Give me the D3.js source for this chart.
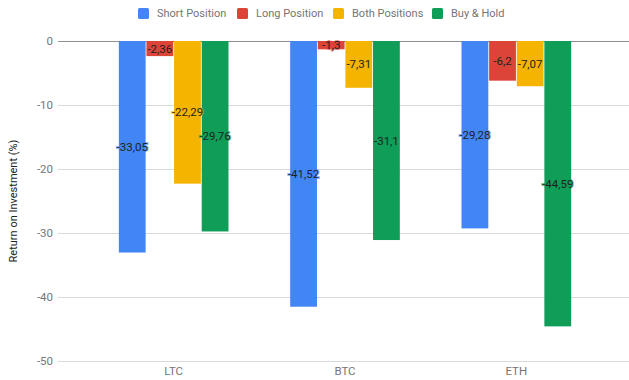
<!DOCTYPE html>
<html><head><meta charset="utf-8">
<script src="https://cdn.jsdelivr.net/npm/d3@7/dist/d3.min.js"></script>
<style>body{margin:0;background:#fff}svg{display:block;font-family:Roboto,Arial,sans-serif}</style>
</head><body><svg id="c" width="629" height="380"></svg>
<script>
const categories = ["LTC", "BTC", "ETH"];
const seriesNames = ["Short Position", "Long Position", "Both Positions", "Buy & Hold"];
const shortPosition = [-33.05, -41.52, -29.28];
const longPosition = [-2.36, -1.3, -6.2];
const bothPositions = [-22.29, -7.31, -7.07];
const buyHold = [-29.76, -31.1, -44.59];
const yTicks = [0, -10, -20, -30, -40, -50];
const colors = ["#4285F4", "#DB4437", "#F4B400", "#0F9D58"];

const seriesValues = [shortPosition, longPosition, bothPositions, buyHold];
const svg = d3.select("#c");
const plotLeft = 58, plotRight = 629, plotTop = 41, plotBottom = 361;

const y = d3.scaleLinear().domain([0, -50]).range([plotTop, plotBottom]);
const x0 = d3.scaleBand().domain(categories).range([88, 602]).paddingInner(0.36).paddingOuter(0.18);
const x1 = d3.scaleBand().domain(seriesNames).range([0, x0.bandwidth()]).paddingInner(0.03);

// gridlines
svg.append("g").selectAll("line").data(yTicks).join("line")
  .attr("x1", plotLeft).attr("x2", plotRight)
  .attr("y1", d => y(d)).attr("y2", d => y(d))
  .attr("stroke", d => d === 0 ? "#8f8f8f" : "#d9d9d9").attr("stroke-width", 1)
  .attr("shape-rendering", "crispEdges");

// y axis labels
const yAxis = d3.axisLeft(y).tickValues(yTicks).tickSize(0).tickPadding(0).tickFormat(d => d);
const ga = svg.append("g").attr("transform", `translate(53,0)`).call(yAxis);
ga.select(".domain").remove();
ga.selectAll("text").attr("fill", "#757575").attr("font-size", 11.5).attr("font-family", "Roboto, Arial, sans-serif");

// x axis labels
const xAxis = d3.axisBottom(x0).tickSize(0).tickPadding(0);
const gx = svg.append("g").attr("transform", `translate(0,367)`).call(xAxis);
gx.select(".domain").remove();
gx.selectAll("text").attr("fill", "#757575").attr("font-size", 11.5).attr("font-family", "Roboto, Arial, sans-serif");

// bars
const rows = [];
categories.forEach((c, i) => seriesNames.forEach((s, j) => rows.push({c, s, j, v: seriesValues[j][i]})));
const g = svg.append("g");
g.selectAll("rect").data(rows).join("rect")
  .attr("x", d => x0(d.c) + x1(d.s))
  .attr("y", y(0))
  .attr("width", x1.bandwidth())
  .attr("height", d => y(d.v) - y(0))
  .attr("fill", d => colors[d.j]);

// data labels
const fmt = v => String(v).replace(".", ",");
g.selectAll("text").data(rows).join("text")
  .attr("x", d => x0(d.c) + x1(d.s) + x1.bandwidth() / 2)
  .attr("y", d => (y(d.v) + y(0)) / 2)
  .attr("dy", "0.35em")
  .attr("text-anchor", "middle")
  .attr("font-size", 11.5)
  .attr("fill", "#1f1f1f")
  .attr("paint-order", "stroke")
  .attr("stroke", d => colors[d.j]).attr("stroke-width", 2).attr("stroke-opacity", 0.6)
  .text(d => fmt(d.v));

// y axis title
svg.append("text").attr("transform", `translate(17,${(plotTop + plotBottom) / 2}) rotate(-90)`)
  .attr("text-anchor", "middle").attr("font-size", 11).attr("fill", "#222")
  .text("Return on Investment (%)");

// legend
const legendX = [138, 237, 333, 432];
const lg = svg.append("g").selectAll("g").data(seriesNames).join("g")
  .attr("transform", (d, i) => `translate(${legendX[i]},8)`);
lg.append("rect").attr("width", 11).attr("height", 11).attr("rx", 1.5).attr("fill", (d, i) => colors[i]);
lg.append("text").attr("x", 19).attr("y", 5.5).attr("dy", "0.35em").attr("font-size", 11)
  .attr("fill", "#757575").text(d => d);
</script></body></html>
